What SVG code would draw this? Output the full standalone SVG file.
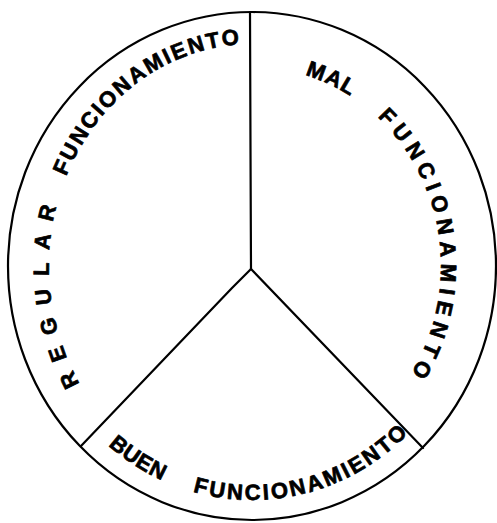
<svg xmlns="http://www.w3.org/2000/svg" width="497" height="523" viewBox="0 0 497 523">
<style>
.lbl{font-family:"Liberation Sans",Arial,sans-serif;font-weight:bold;font-size:22px;fill:#000;stroke:#000;stroke-width:0.7;stroke-linejoin:round}
.ln{fill:none;stroke:#000;stroke-width:2.2;stroke-linecap:round;stroke-linejoin:round}
</style>
<defs>
<path id="p1" d="M79.8 383.6 A203 222 0 0 1 321.4 57.4"/>
<path id="p2" d="M284.8 70 A189 199 0 0 1 346.5 438.3"/>
<path id="p3" d="M93.6 431.5 A224 234 0 0 0 446 383"/>
</defs>
<rect width="497" height="523" fill="#fff"/>
<g id="circle">
<ellipse class="ln" cx="252" cy="266" rx="244" ry="254" stroke-width="2.5"/>
</g>
<g id="connectors">
<polyline class="ln" points="250,12 250.5,150 251,269"/>
<polyline class="ln" points="251,269 232,288 81,446"/>
<polyline class="ln" points="251,269 423,448"/>
</g>
<g id="regular">
<text class="lbl"><textPath href="#p1" startOffset="0"><tspan letter-spacing="12.3" word-spacing="0.9">REGULAR </tspan><tspan letter-spacing="2.2">FUNCIONAMIENTO</tspan></textPath></text>
</g>
<g id="mal">
<text class="lbl"><textPath href="#p2" startOffset="20.7"><tspan letter-spacing="1.3" word-spacing="25.7">MAL </tspan><tspan letter-spacing="6">FUNCIONAMIENTO</tspan></textPath></text>
</g>
<g id="buen">
<text class="lbl"><textPath href="#p3" startOffset="20"><tspan letter-spacing="0.6" word-spacing="25.9">BUEN </tspan><tspan letter-spacing="2.5">FUNCIONAMIENTO</tspan></textPath></text>
</g>
</svg>
